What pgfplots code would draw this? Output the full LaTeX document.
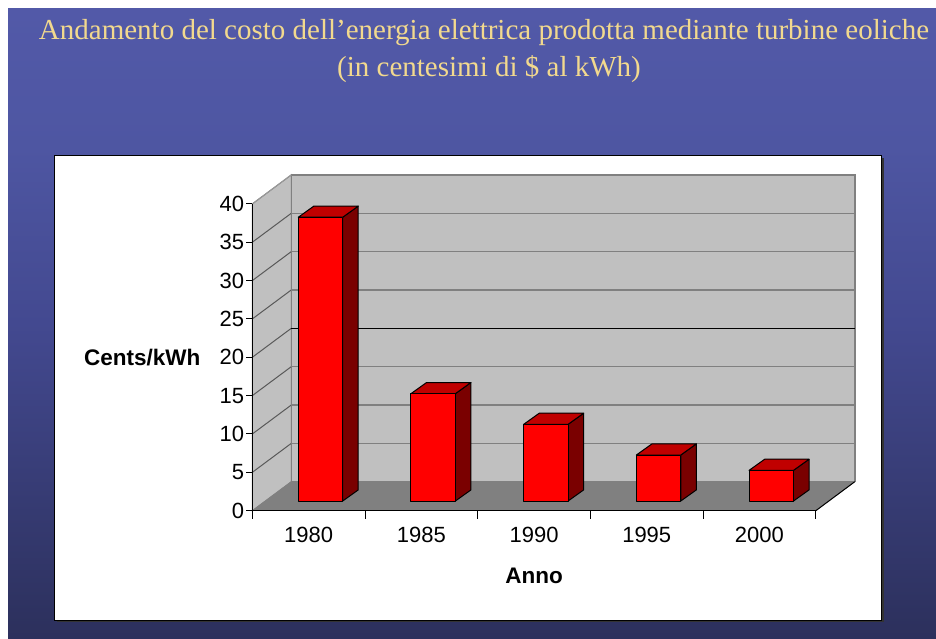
\documentclass[border=0pt]{standalone}
\usepackage{pgfplots}
\pgfplotsset{compat=1.18}
\usepackage{fontspec}
\setmainfont{Liberation Sans}
\newfontfamily\titlefont{Liberation Serif}
\definecolor{titlecol}{HTML}{F2D98E}
\definecolor{wallcol}{HTML}{C0C0C0}
\definecolor{floorcol}{HTML}{808080}
\definecolor{gridcol}{HTML}{808080}
\definecolor{barfront}{HTML}{FF0000}
\definecolor{bartop}{HTML}{C00000}
\definecolor{barside}{HTML}{7A0000}
\definecolor{bgtop}{HTML}{5259A8}
\definecolor{bgtopb}{HTML}{4E56A2}
\definecolor{bgmid}{HTML}{434990}
\definecolor{bgbot}{HTML}{2C305C}
\pgfdeclareverticalshading{bgshade}{100bp}{color(0bp)=(bgbot); color(25bp)=(bgbot); color(50bp)=(bgmid); color(64bp)=(bgtopb); color(75bp)=(bgtop); color(100bp)=(bgtop)}
\newcommand\barthreed[2]{% #1 category index, #2 value
  \pgfmathsetmacro\xl{#1+0.408}%
  \pgfmathsetmacro\xr{#1+0.802}%
  \pgfmathsetmacro\xlb{#1+0.408+0.138}%
  \pgfmathsetmacro\xrb{#1+0.802+0.138}%
  \pgfmathsetmacro\yb{1.26}%
  \pgfmathsetmacro\yt{#2+1.26}%
  \pgfmathsetmacro\ytb{#2+1.26+1.45}%
  \pgfmathsetmacro\ybb{1.26+1.45}%
  \addplot[fill=barside, draw=black, line width=1pt, line join=round] coordinates {(\xr,\yb) (\xrb,\ybb) (\xrb,\ytb) (\xr,\yt)} -- cycle;
  \addplot[fill=bartop, draw=black, line width=1pt, line join=round] coordinates {(\xl,\yt) (\xr,\yt) (\xrb,\ytb) (\xlb,\ytb)} -- cycle;
  \addplot[fill=barfront, draw=black, line width=1pt, line join=round] coordinates {(\xl,\yb) (\xr,\yb) (\xr,\yt) (\xl,\yt)} -- cycle;
}
\begin{document}
\begin{tikzpicture}
\useasboundingbox (0,0) rectangle (936pt,639pt);
\fill[white] (0,0) rectangle (936pt,639pt);
\shade[shading=bgshade] (8pt,0pt) rectangle (936pt,630pt);
\node[font=\titlefont\fontsize{29}{29}\selectfont, text=titlecol, anchor=center] at (484pt,606pt) {Andamento del costo dell’energia elettrica prodotta mediante turbine eoliche};
\node[font=\titlefont\fontsize{29}{29}\selectfont, text=titlecol, anchor=center] at (489pt,570pt) {(in centesimi di \$ al kWh)};
% white chart box with shadow
\fill[black!80] (56.5pt,17pt) rectangle (884pt,481pt);
\fill[white] (54.3pt,19pt) rectangle (881.7pt,483.3pt);
\draw[black, line width=0.8pt] (54.3pt,19pt) rectangle (881.7pt,483.3pt);
\begin{axis}[
  at={(252.3pt,128.3pt)}, anchor=south west,
  x=112.7pt, y=7.67pt,
  xmin=0, xmax=5, ymin=0, ymax=40,
  axis lines=left,
  axis line style={-, black, line width=1pt},
  clip=false,
  axis on top,
  tick align=outside,
  ytick={0,5,...,40},
  xtick={0.5,1.5,...,4.5},
  xticklabels={1980,1985,1990,1995,2000},
  minor xtick={0,1,...,5},
  major tick length=6pt,
  minor tick length=8pt,
  major x tick style={draw=none},
  minor x tick style={black, line width=1pt},
  major y tick style={black, line width=1pt},
  /pgf/number format/assume math mode=true,
  ticklabel style={font=\fontsize{22}{22}\selectfont, inner sep=2pt},
  xticklabel style={yshift=-8pt},
  xlabel={\textbf{Anno}},
  ylabel={\textbf{Cents/kWh}},
  every axis x label/.style={at={(axis cs:2.5,-8.5)}, anchor=center, font=\fontsize{22.5}{22.5}\selectfont},
  every axis y label/.style={at={(axis cs:-0.43,20)}, anchor=east, font=\fontsize{22.5}{22.5}\selectfont},
]
% side wall
\addplot[fill=wallcol, draw=gridcol, line width=1pt] coordinates {(0,0) (0.346,3.78) (0.346,43.78) (0,40)} -- cycle;
% back wall
\addplot[fill=wallcol, draw=gridcol, line width=1.5pt] coordinates {(0.346,3.78) (5.346,3.78) (5.346,43.78) (0.346,43.78)} -- cycle;
% floor
\addplot[fill=floorcol, draw=floorcol, line width=0.5pt] coordinates {(0,0) (5,0) (5.346,3.78) (0.346,3.78)} -- cycle;
\addplot[draw=black, line width=1pt] coordinates {(5,0) (5.346,3.78)};
% grid lines on the walls
\addplot[draw=black!65, line width=1pt] coordinates {(0,5) (0.346,8.78)};
\addplot[draw=black!65, line width=1pt] coordinates {(0,10) (0.346,13.78)};
\addplot[draw=black!65, line width=1pt] coordinates {(0,15) (0.346,18.78)};
\addplot[draw=black!65, line width=1pt] coordinates {(0,20) (0.346,23.78)};
\addplot[draw=black!65, line width=1pt] coordinates {(0,25) (0.346,28.78)};
\addplot[draw=black!65, line width=1pt] coordinates {(0,30) (0.346,33.78)};
\addplot[draw=black!65, line width=1pt] coordinates {(0,35) (0.346,38.78)};
\addplot[draw=gridcol!80, line width=1pt] coordinates {(0,40) (0.346,43.78)};
\addplot[draw=gridcol, line width=1.5pt] coordinates {(0.346,8.78) (5.346,8.78)};
\addplot[draw=gridcol, line width=1.5pt] coordinates {(0.346,13.78) (5.346,13.78)};
\addplot[draw=gridcol, line width=1.5pt] coordinates {(0.346,18.78) (5.346,18.78)};
\addplot[draw=black, line width=1.2pt] coordinates {(0.346,23.78) (5.346,23.78)};
\addplot[draw=gridcol, line width=1.5pt] coordinates {(0.346,28.78) (5.346,28.78)};
\addplot[draw=gridcol, line width=1.5pt] coordinates {(0.346,33.78) (5.346,33.78)};
\addplot[draw=gridcol, line width=1.5pt] coordinates {(0.346,38.78) (5.346,38.78)};
% bars (category index, cents/kWh)
\barthreed{0}{37}
\barthreed{1}{14}
\barthreed{2}{10}
\barthreed{3}{6}
\barthreed{4}{4}
\end{axis}
\end{tikzpicture}
\end{document}
